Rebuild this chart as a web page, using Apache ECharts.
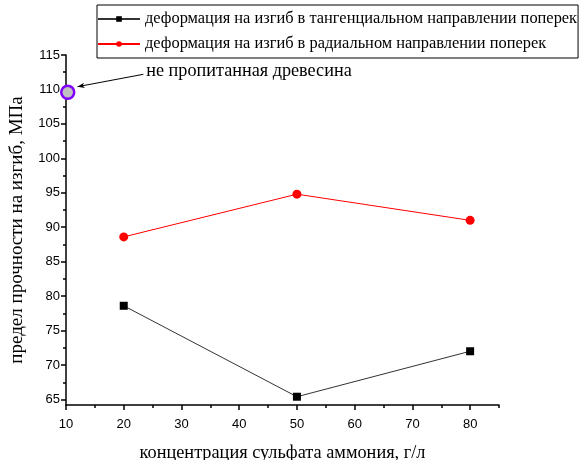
<!DOCTYPE html>
<html>
<head>
<meta charset="utf-8">
<script src="https://cdn.jsdelivr.net/npm/echarts@6/dist/echarts.min.js"></script>
<style>
html,body{margin:0;padding:0;background:#fff;}
#chart{width:581px;height:460px;}
</style>
</head>
<body>
<div id="chart"></div>
<script>
var xCategories = [20, 50, 80];
var tangentialValues = [78.6, 65.4, 72.0];
var radialValues = [88.6, 94.8, 91.0];
var untreatedPoint = [10.3, 109.6];
var seriesNames = ['деформация на изгиб в тангенциальном направлении поперек', 'деформация на изгиб в радиальном направлении поперек'];
var annotationText = 'не пропитанная древесина';
var annotationArrow = [[23.4, 112.2], [12.0, 110.4]];
var annotationTextAnchor = [23.9, 112.65];
var xMajorTicks = [10, 20, 30, 40, 50, 60, 70, 80];
var xMinorTicks = [15, 25, 35, 45, 55, 65, 75, 85];
var yMajorTicks = [65, 70, 75, 80, 85, 90, 95, 100, 105, 110, 115];
var yMinorTicks = [67.5, 72.5, 77.5, 82.5, 87.5, 92.5, 97.5, 102.5, 107.5, 112.5];

var serif = '"Liberation Serif", "Times New Roman", serif';
var sans = '"Liberation Sans", Arial, sans-serif';

function pairs(xs, ys) { return xs.map(function (x, i) { return [x, ys[i]]; }); }

var chart = echarts.init(document.getElementById('chart'), null, {renderer: 'canvas'});
var X_MIN = 10, X_MAX = 85, Y_MIN = 64.2, Y_MAX = 115;

var option = {
  backgroundColor: '#fff',
  animation: false,
  grid: {left: 66, right: 82, top: 55, bottom: 55, containLabel: false, outerBoundsMode: 'none'},
  legend: {
    data: seriesNames,
    orient: 'vertical',
    left: 97, top: 5,
    padding: [6, 1, 6, 0],
    itemWidth: 42, itemHeight: 7, itemGap: 9,
    borderColor: '#000', borderWidth: 1,
    textStyle: {fontFamily: serif, fontSize: 16.4, lineHeight: 16, color: '#000'}
  },
  xAxis: [{
    type: 'value', min: X_MIN, max: X_MAX,
    name: 'концентрация сульфата аммония, г/л',
    nameLocation: 'middle', nameGap: 39,
    nameTextStyle: {fontFamily: serif, fontSize: 18.3, color: '#000'},
    axisLine: {show: true, onZero: false, lineStyle: {color: '#000', width: 1.5}},
    axisTick: {show: true, inside: false, length: 5, customValues: xMajorTicks, lineStyle: {color: '#000', width: 1.5}},
    axisLabel: {customValues: xMajorTicks, margin: 13, fontFamily: sans, fontSize: 13, color: '#000'},
    splitLine: {show: false}
  }, {
    type: 'value', min: X_MIN, max: X_MAX, position: 'bottom',
    axisLine: {show: false},
    axisTick: {show: true, inside: false, length: 3, customValues: xMinorTicks, lineStyle: {color: '#000', width: 1.5}},
    axisLabel: {show: false},
    splitLine: {show: false}
  }],
  yAxis: [{
    type: 'value', min: Y_MIN, max: Y_MAX,
    name: 'предел прочности на изгиб, МПа',
    nameLocation: 'middle', nameGap: 39,
    nameTextStyle: {fontFamily: serif, fontSize: 19, color: '#000'},
    axisLine: {show: true, onZero: false, lineStyle: {color: '#000', width: 1.5}},
    axisTick: {show: true, inside: false, length: 5, customValues: yMajorTicks, lineStyle: {color: '#000', width: 1.5}},
    axisLabel: {customValues: yMajorTicks, margin: 6, fontFamily: sans, fontSize: 13, color: '#000'},
    splitLine: {show: false}
  }, {
    type: 'value', min: Y_MIN, max: Y_MAX, position: 'left',
    axisLine: {show: false},
    axisTick: {show: true, inside: false, length: 3, customValues: yMinorTicks, lineStyle: {color: '#000', width: 1.5}},
    axisLabel: {show: false},
    splitLine: {show: false}
  }],
  series: [{
    name: seriesNames[0], type: 'line',
    data: pairs(xCategories, tangentialValues),
    symbol: 'rect', symbolSize: 8,
    itemStyle: {color: '#000'},
    lineStyle: {color: '#333', width: 1}
  }, {
    name: seriesNames[1], type: 'line',
    data: pairs(xCategories, radialValues),
    symbol: 'circle', symbolSize: 9,
    itemStyle: {color: '#ff0000'},
    lineStyle: {color: '#ff0000', width: 1}
  }, {
    name: 'untreated', type: 'scatter',
    data: [untreatedPoint],
    symbol: 'circle', symbolSize: 13,
    itemStyle: {color: '#c0c0c0', borderColor: '#8000ff', borderWidth: 2.5, opacity: 1},
    z: 5,
    markLine: {
      silent: true,
      symbol: ['none', 'arrow'],
      symbolSize: [4, 7],
      lineStyle: {color: '#000', width: 1, type: 'solid'},
      label: {show: false},
      data: [[{coord: annotationArrow[0]}, {coord: annotationArrow[1]}]]
    }
  }]
};
chart.setOption(option);

var p = chart.convertToPixel({xAxisIndex: 0, yAxisIndex: 0}, annotationTextAnchor);
chart.setOption({
  graphic: [{
    type: 'text', x: p[0], y: p[1],
    style: {text: annotationText, font: '18.2px ' + serif, fill: '#000', textAlign: 'left', textVerticalAlign: 'middle'}
  }]
});
</script>
</body>
</html>
